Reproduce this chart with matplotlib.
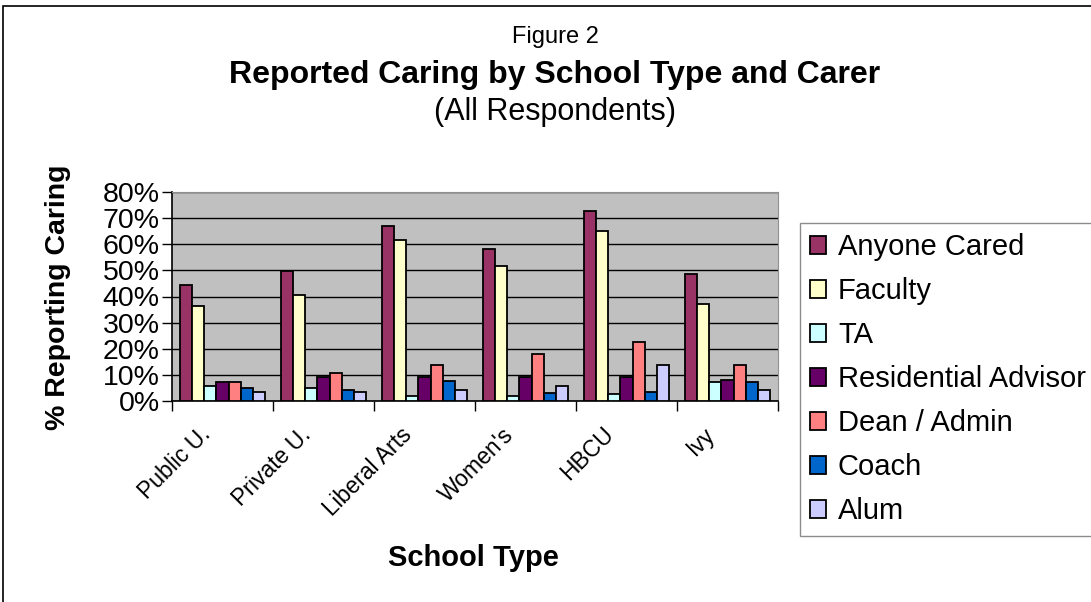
import numpy as np
import matplotlib
matplotlib.use("Agg")
from matplotlib import pyplot as plt
from matplotlib.patches import Rectangle
from matplotlib.transforms import ScaledTranslation

plt.rcParams['font.family'] = ['Liberation Sans', 'DejaVu Sans']

schools = ["Public U.", "Private U.", "Liberal Arts", "Women's", "HBCU", "Ivy"]
carers = ["Anyone Cared", "Faculty", "TA", "Residential Advisor", "Dean / Admin", "Coach", "Alum"]
colors = ["#993366", "#FFFFCC", "#CCFFFF", "#660066", "#FF8080", "#0066CC", "#CCCCFF"]

anyone = [44.3, 49.6, 67.1, 58.3, 72.7, 48.8]
faculty = [36.4, 40.7, 61.8, 51.6, 64.9, 37.0]
ta = [5.6, 4.9, 2.0, 2.0, 2.8, 7.2]
res_adv = [7.2, 9.2, 9.2, 9.2, 9.3, 7.9]
dean = [7.2, 10.8, 13.8, 18.1, 22.4, 13.8]
coach = [4.9, 4.2, 7.8, 2.9, 3.6, 7.2]
alum = [3.6, 3.6, 4.4, 5.6, 13.8, 4.2]

series = [anyone, faculty, ta, res_adv, dean, coach, alum]

fig = plt.figure(figsize=(10.91, 6.02), dpi=100)
# outer chart border
fig.patches.append(Rectangle((3/1091, -0.01), 1.02, 0.9955 - 3/602 + 0.01, transform=fig.transFigure,
                             fill=False, edgecolor="black", linewidth=1.2))

ax = fig.add_axes([172/1091, 201/602, 606/1091, 209/602])
ax.set_facecolor("#C0C0C0")

x = np.arange(len(schools))
w = 0.12
for i, vals in enumerate(series):
    ax.bar(x + (i - 3) * w, vals, width=w, color=colors[i], edgecolor="black",
           linewidth=1.3, label=carers[i], zorder=3)

ax.set_xlim(-0.5, len(schools) - 0.5)
ax.set_ylim(0, 80)
ax.set_yticks(range(0, 81, 10))
ax.set_yticklabels([f"{v}%" for v in range(0, 81, 10)], fontsize=20.5)
ax.yaxis.grid(True, color="black", linewidth=1.0, zorder=1)
ax.set_axisbelow(True)

ax.set_xticks(np.arange(-0.5, len(schools)), minor=False)
ax.set_xticklabels([])
ax.set_xticks(x, minor=True)
ax.set_xticklabels(schools, minor=True, rotation=45, ha="right", va="top",
                   rotation_mode="anchor", fontsize=16.5)
ax.tick_params(axis="x", which="minor", length=0, pad=0)
ax.tick_params(axis="x", which="major", length=7, direction="out", width=1)
ax.tick_params(axis="y", length=7, direction="out", width=1, pad=2)
shift = ScaledTranslation(-0.24, -0.22, fig.dpi_scale_trans)
for lab in ax.get_xticklabels(minor=True):
    lab.set_transform(lab.get_transform() + shift)

ax.spines["top"].set_color("#909090")
ax.spines["right"].set_color("#909090")
ax.spines["left"].set_linewidth(1.2)
ax.spines["bottom"].set_linewidth(1.2)

fig.text(58/1091, 1 - 297/602, "% Reporting Caring", ha="center", va="center",
         rotation=90, fontsize=20.5, fontweight="bold")
fig.text(473/1091, 1 - 558/602, "School Type", ha="center", va="center",
         fontsize=21, fontweight="bold")

fig.text(555/1091, 1 - 37/602, "Figure 2", ha="center", va="center", fontsize=17)
fig.text(555/1091, 1 - 75/602, "Reported Caring by School Type and Carer", ha="center",
         va="center", fontsize=23, fontweight="bold")
fig.text(555/1091, 1 - 112/602, "(All Respondents)", ha="center", va="center", fontsize=22)

leg = fig.legend(loc="upper left", bbox_to_anchor=(800/1091, 1 - 223/602), fontsize=21,
                 frameon=True, fancybox=False, edgecolor="#707070", handlelength=0.55,
                 handleheight=0.55, handletextpad=0.4, labelspacing=0.55, borderpad=0.35,
                 borderaxespad=0)
leg.get_frame().set_linewidth(1.0)

fig.savefig("out.png", dpi=100)
